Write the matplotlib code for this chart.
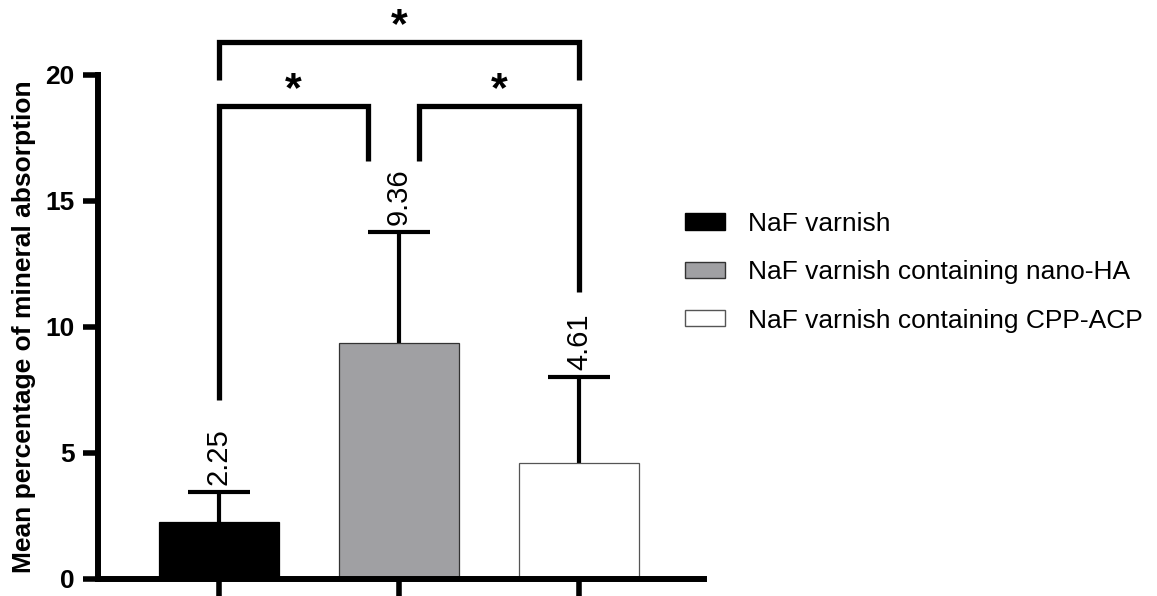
import matplotlib
matplotlib.use("Agg")
import matplotlib.pyplot as plt
from matplotlib.patches import Patch
from matplotlib import font_manager as fm

# ---- data ----
groups = ["NaF varnish", "NaF varnish containing nano-HA", "NaF varnish containing CPP-ACP"]
means = [2.25, 9.36, 4.61]
sds = [1.20, 4.41, 3.41]
value_labels = ["2.25", "9.36", "4.61"]
colors = ["#000000", "#a0a0a3", "#ffffff"]
edgecolors = ["#000000", "#333333", "#555555"]
yticks = [0, 5, 10, 15, 20]
ylabel = "Mean percentage of mineral absorption"

# significance brackets: (x_left, x_right, y_top, y_left_end, y_right_end, label)
brackets = [
    (0.0, 0.828, 18.77, 7.10, 16.59, "*"),
    (1.111, 2.0, 18.77, 16.59, 11.39, "*"),
    (0.0, 2.0, 21.31, 19.80, 19.80, "*"),
]

names = {f.name for f in fm.fontManager.ttflist}
narrow = "Liberation Sans Narrow" if "Liberation Sans Narrow" in names else "Liberation Sans"

plt.rcParams["font.family"] = ["Liberation Sans", "DejaVu Sans"]

fig = plt.figure(figsize=(11.57, 5.96), dpi=100)
ax = fig.add_axes([98 / 1157, 1 - 579 / 596, (704 - 98) / 1157, (579 - 75) / 596])

x = list(range(len(groups)))
ax.errorbar(x, means, yerr=sds, fmt="none", ecolor="black", elinewidth=3,
            capsize=22, capthick=3, zorder=1)
bars = ax.bar(x, means, width=0.667, color=colors, edgecolor=edgecolors, linewidth=0.9, zorder=2)

for xi, m, s, lab in zip(x, means, sds, value_labels):
    ax.annotate(lab, (xi, m + s), xytext=(0, 5), textcoords="offset points",
                rotation=90, ha="center", va="bottom", fontsize=21)

lw_br = 3.8
for xl, xr, yt, yl, yr, lab in brackets:
    ax.plot([xl, xl, xr, xr], [yl, yt, yt, yr], color="black", lw=lw_br,
            solid_joinstyle="miter", solid_capstyle="butt", clip_on=False, zorder=4)
    ax.text((xl + xr) / 2, yt + 0.2, lab, ha="center", va="baseline",
            fontsize=31, fontweight="bold", clip_on=False)

ax.set_xlim(-0.672, 2.694)
ax.set_ylim(0, 20)
ax.set_yticks(yticks)
ax.set_yticklabels([str(t) for t in yticks], fontfamily=narrow, fontweight="bold", fontsize=19)
ax.set_xticks(x)
ax.set_xticklabels([""] * 3)
ax.tick_params(axis="y", length=11, width=4, pad=6)
ax.tick_params(axis="x", length=14, width=4)

for sp in ["top", "right"]:
    ax.spines[sp].set_visible(False)
for sp in ["left", "bottom"]:
    ax.spines[sp].set_linewidth(4.3)
    ax.spines[sp].set_capstyle("projecting")

ax.set_ylabel(ylabel, fontsize=19, fontweight="bold")
ax.yaxis.set_label_coords(-0.103, 0.5)

handles = [Patch(facecolor=c, edgecolor=e, linewidth=1.0) for c, e in zip(colors, edgecolors)]
fig.legend(handles, groups, loc="upper left", bbox_to_anchor=(685 / 1157, 1 - 212 / 596),
           frameon=False, fontsize=19, handlelength=1.5, handleheight=0.58,
           handletextpad=0.9, labelspacing=0.92, borderaxespad=0, borderpad=0)

fig.savefig("out.png", dpi=100)
